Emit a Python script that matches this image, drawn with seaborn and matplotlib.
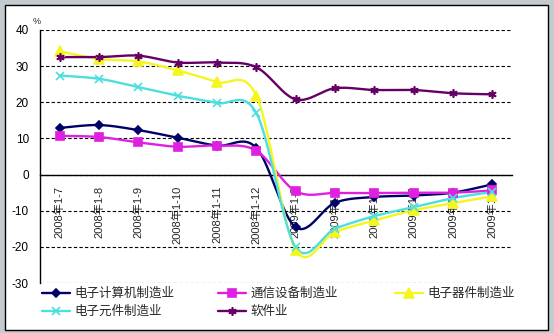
import numpy as np
import pandas as pd
import matplotlib
matplotlib.use("Agg")
import matplotlib.pyplot as plt
from matplotlib.lines import Line2D
from matplotlib.patches import Rectangle
import seaborn as sns

# ---- data -------------------------------------------------------------
periods = ["2008年1-7", "2008年1-8", "2008年1-9", "2008年1-10", "2008年1-11",
           "2008年1-12", "2009年1-2", "2009年1-3", "2009年1-4", "2009年1-5",
           "2009年1-6", "2009年1-7"]

computer = [12.9, 13.7, 12.3, 10.2, 8.0, 7.4, -14.6, -7.8, -6.2, -5.8, -5.0, -2.7]
telecom = [10.7, 10.4, 8.9, 7.7, 8.0, 6.6, -4.6, -5.1, -5.1, -5.0, -5.0, -4.4]
devices = [34.1, 32.0, 31.3, 28.8, 25.6, 21.8, -20.8, -15.9, -12.7, -9.9, -7.9, -6.0]
elements = [27.4, 26.5, 24.2, 21.8, 19.8, 17.0, -20.1, -15.0, -11.5, -9.0, -6.5, -4.8]
software = [32.5, 32.5, 32.9, 31.0, 31.0, 29.7, 20.8, 23.9, 23.4, 23.4, 22.5, 22.2]

series_names = ["电子计算机制造业", "通信设备制造业", "电子器件制造业",
                "电子元件制造业", "软件业"]
series_values = [computer, telecom, devices, elements, software]
y_ticks = [-30, -20, -10, 0, 10, 20, 30, 40]

# ---- styles -----------------------------------------------------------
colors = ["#000066", "#e020e0", "#f5f520", "#4ddede", "#660066"]
markers = ["D", "s", "^", "x", (6, 2, 0)]
msizes = [4.5, 5.4, 6.5, 5.5, 6]


def smooth_curve(x, y, n=24):
    """Cubic Bezier smoothing through every point (Catmull-Rom tangents)."""
    P = np.column_stack([x, y]).astype(float)
    out = [P[0]]
    for i in range(len(P) - 1):
        p0 = P[i - 1] if i > 0 else P[i]
        p1, p2 = P[i], P[i + 1]
        p3 = P[i + 2] if i + 2 < len(P) else P[i + 1]
        c1 = p1 + (p2 - p0) / 6.0
        c2 = p2 - (p3 - p1) / 6.0
        t = np.linspace(0, 1, n)[1:, None]
        seg = ((1 - t) ** 3) * p1 + 3 * ((1 - t) ** 2) * t * c1 \
            + 3 * (1 - t) * t ** 2 * c2 + t ** 3 * p2
        out.extend(seg)
    out = np.array(out)
    return out[:, 0], out[:, 1]


sns.set_style("white")
plt.rcParams["font.family"] = ["Liberation Sans", "Noto Sans CJK SC", "DejaVu Sans"]

W, H = 554, 333
fig = plt.figure(figsize=(W / 100, H / 100), dpi=100)
fig.patch.set_facecolor("#c3cbcf")
fig.add_artist(Rectangle((5 / W, 1 - 330 / H), 543 / W, 325 / H,
                         transform=fig.transFigure, facecolor="white",
                         edgecolor="black", linewidth=1.0, zorder=-5))

ax = fig.add_axes([40 / W, 1 - 283 / H, 472 / W, 253 / H])
ax.set_facecolor("none")

pos = np.arange(len(periods))
for name, vals, c, m, ms in zip(series_names, series_values, colors, markers, msizes):
    sx, sy = smooth_curve(pos, vals)
    curve = pd.DataFrame({"x": sx, "y": sy})
    sns.lineplot(data=curve, x="x", y="y", sort=False, estimator=None,
                 color=c, linewidth=1.7, ax=ax, zorder=3)
    ax.plot(pos, vals, linestyle="none", marker=m, markersize=ms,
            color=c, markerfacecolor=c, markeredgecolor=c,
            markeredgewidth=1.2, zorder=4)

ax.set_xlim(-0.5, len(periods) - 0.5)
ax.set_ylim(-30, 40)
ax.set_xlabel("")
ax.set_ylabel("")

# y axis
ax.set_yticks(y_ticks)
ax.set_yticklabels([str(v) for v in y_ticks], fontsize=8.5)
ax.tick_params(axis="y", length=0, pad=8, colors="black")
ax.yaxis.grid(True, color="black", linestyle=(0, (3, 2)), linewidth=0.8)
ax.set_axisbelow(True)

# x axis sits on the zero line
ax.spines["bottom"].set_position(("data", 0))
ax.spines["bottom"].set_zorder(2)
for s in ["top", "right"]:
    ax.spines[s].set_visible(False)
for s in ["left", "bottom"]:
    ax.spines[s].set_color("black")
    ax.spines[s].set_linewidth(1.0)
ax.set_xticks(pos)
ax.set_xticklabels(periods, rotation=90, fontsize=8, va="top", ha="center")
ax.tick_params(axis="x", which="major", length=0, pad=8)
ax.set_xticks(np.arange(0.5, len(periods) - 0.5, 1.0), minor=True)
ax.tick_params(axis="x", which="minor", length=3, width=0.8, direction="in",
               colors="black")
ax.xaxis.grid(False)

fig.text(37 / W, 1 - 22 / H, "%", fontsize=6.5, ha="center", va="center")

# legend laid out in three columns
handles = [Line2D([], [], color=c, marker=m, markersize=ms, linewidth=1.7,
                  markerfacecolor=c, markeredgecolor=c, markeredgewidth=1.2)
           for c, m, ms in zip(colors, markers, msizes)]
columns = [([0, 3], 42), ([1, 4], 218), ([2], 395)]
for idx, x0 in columns:
    fig.legend([handles[i] for i in idx], [series_names[i] for i in idx],
               loc="upper left", bbox_to_anchor=(x0 / W, 1 - 287 / H),
               frameon=False, borderpad=0, borderaxespad=0,
               handlelength=2.2, handletextpad=0.4, labelspacing=0.42,
               prop={"family": ["Noto Sans CJK SC", "DejaVu Sans"], "size": 9})

fig.savefig("out.png", dpi=100, facecolor=fig.get_facecolor())
